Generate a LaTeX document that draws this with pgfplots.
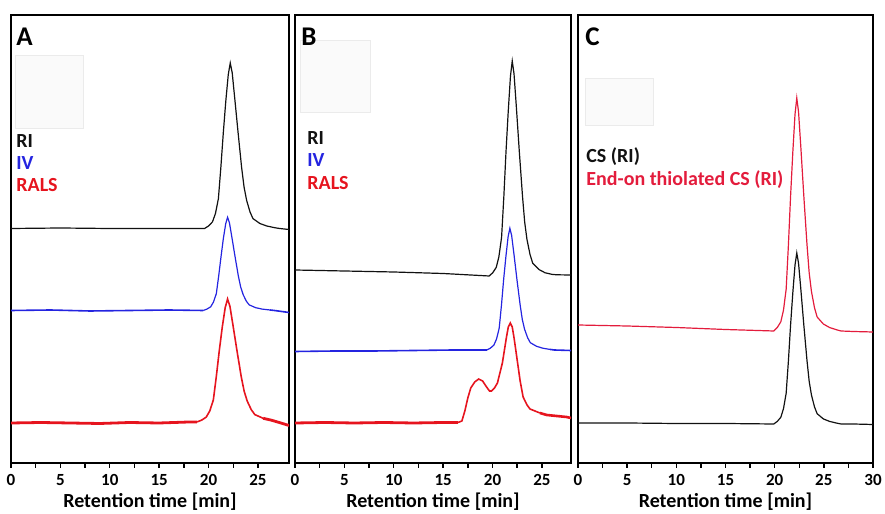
\documentclass[border=0pt]{standalone}
\usepackage{pgfplots}
\pgfplotsset{compat=1.18}
\usepackage{fontspec}
\setmainfont{Carlito}
\definecolor{riblack}{HTML}{111111}
\definecolor{ivblue}{HTML}{2424E0}
\definecolor{ralsred}{HTML}{E6141E}
\definecolor{thiored}{HTML}{E31C3C}
\pgfplotsset{
  panel/.style={
    scale only axis,
    height=224pt,
    ymin=0, ymax=448,
    ytick=\empty,
    xtick pos=left,
    tick align=outside,
    minor x tick num=1,
    major tick length=2.5pt,
    minor tick length=2.5pt,
    every tick/.style={black, line width=0.7pt},
    axis line style={line width=1.1pt},
    /pgf/number format/assume math mode=true,
    tick label style={font=\bfseries\fontsize{8.5}{9}\selectfont},
    xticklabel style={yshift=0.5pt},
    label style={font=\bfseries\fontsize{10}{11}\selectfont},
    xlabel={Retention time [min]},
    xlabel style={yshift=3pt},
    clip=true,
  },
}

\begin{document}
\begin{tikzpicture}
\useasboundingbox (0,0) rectangle (442.5pt,257pt);

% ---------- A ----------
\begin{axis}[panel, at={(5.5pt,25.5pt)}, anchor=south west, width=139pt,
  xmin=0, xmax=28.15, xtick={0,5,...,25}]
% RI
\addplot[riblack, line width=0.6pt] coordinates {
  (0,234.5) (5,235) (10,234.5) (15,234.5) (19.6,234.5) (20.0,237.0) (20.4,241.1)
  (20.7,249.4) (21.0,264.3) (21.25,295.7) (21.5,330.5) (21.75,361.9) (22.0,388.4)
  (22.2,400) (22.4,390.1) (22.65,365.2) (23.0,329.8) (23.35,295.7) (23.6,275.9)
  (23.86,262.6) (24.2,251.1) (24.5,244.4) (25.2,239.5) (25.9,237.0) (26.7,235.3)
  (27.2,234.5) (28.15,233.5)
};
% IV
\addplot[ivblue, line width=0.8pt] coordinates {
  (0,152.5) (4,153) (8,152) (12,152.5) (16,153) (19.46,152.5)
};
\addplot[ivblue, line width=0.6pt] coordinates {
  (19.46,152.5) (19.84,153.9) (20.22,156.2) (20.5,160.9) (20.79,169.3) (21.03,187.0)
  (21.27,206.6) (21.5,224.3) (21.74,239.2) (21.93,245.7) (22.12,240.1) (22.36,226.1)
  (22.69,206.2) (23.02,187.0) (23.26,175.8) (23.51,168.3) (23.83,161.8) (24.12,158.1)
  (24.78,155.3) (25.43,153.9) (26.23,153.0)
};
\addplot[ivblue, line width=0.8pt] coordinates {(26.23,153.0) (26.68,152.5) (28.15,150.5)};
% RALS
\addplot[ralsred, line width=1.4pt] coordinates {
  (0,40) (3,40.5) (6,40) (9,39.5) (12,40.5) (15,40) (18,41) (18.81,41)
};
\addplot[ralsred, line width=0.8pt] coordinates {
  (18.81,41) (19.29,42.8) (19.77,45.9) (20.13,52.1) (20.49,63.1) (20.79,86.5)
  (21.09,112.3) (21.39,135.7) (21.69,155.4) (21.93,164) (22.17,156.6) (22.47,138.2)
  (22.89,111.8) (23.31,86.5) (23.61,71.75) (23.92,61.9) (24.33,53.3) (24.69,48.4)
  (25.53,44.7)
};
\addplot[ralsred, line width=1.4pt] coordinates {
  (25.53,44.7) (26.37,42.8) (27.33,40) (28.15,37.5)
};
\end{axis}

% ---------- B ----------
\begin{axis}[panel, at={(147.5pt,25.5pt)}, anchor=south west, width=138pt,
  xmin=0, xmax=27.95, xtick={0,5,...,25}]
% RI
\addplot[riblack, line width=0.6pt] coordinates {
  (0,193) (5,192) (10,191) (15,189.5) (19.66,187) (20.02,190.2) (20.38,195.6)
  (20.65,206.4) (20.92,225.7) (21.15,266.6) (21.37,311.7) (21.6,352.6) (21.82,387)
  (22.0,402) (22.18,389.1) (22.41,356.9) (22.72,310.8) (23.04,266.6) (23.26,240.8)
  (23.49,223.6) (23.8,208.5) (24.07,199.9) (24.7,193.5) (25.33,190.2) (26.05,188.6)
  (26.5,188.2) (27.95,188)
};
% IV
\addplot[ivblue, line width=0.8pt] coordinates {
  (0,111.5) (4,112) (8,112) (12,112.5) (16,113) (19.42,113)
};
\addplot[ivblue, line width=0.6pt] coordinates {
  (19.42,113) (19.78,114.8) (20.14,117.9) (20.41,124.0) (20.68,134.9) (20.91,158.0)
  (21.13,183.6) (21.36,206.7) (21.58,226.2) (21.76,234.7) (21.94,227.4) (22.17,209.1)
  (22.48,183.1) (22.8,158.0) (23.02,143.4) (23.25,133.7) (23.56,125.2) (23.83,120.3)
  (24.46,116.7) (25.09,114.8) (25.81,113.6)
};
\addplot[ivblue, line width=0.8pt] coordinates {(25.81,113.6) (26.26,113) (27.95,112.5)};
% RALS
\addplot[ralsred, line width=1.4pt] coordinates {
  (0,40) (3,40.5) (6,40) (9,40.5) (12,40) (15,40.5) (16.5,40.5)
};
\addplot[ralsred, line width=0.8pt] coordinates {
  (16.5,40.5) (16.9,42) (17.2,52) (17.5,65) (17.8,75) (18.2,81) (18.6,84) (19.0,82)
  (19.4,76) (19.7,72) (19.9,72) (20.2,75) (20.5,80) (21.0,100) (21.4,125) (21.6,136)
  (21.8,140) (22.0,136) (22.2,124) (22.5,103) (22.8,82) (23.1,66) (23.5,58) (23.8,54)
  (24.3,52) (24.8,50)
};
\addplot[ralsred, line width=1.3pt] coordinates {
  (24.8,50) (25.5,48) (26.5,47) (27.5,46) (27.95,45)
};
\end{axis}

% ---------- C ----------
\begin{axis}[panel, at={(289pt,25.5pt)}, anchor=south west, width=147.5pt,
  xmin=0, xmax=30, xtick={0,5,...,30}]
% thiolated CS
\addplot[thiored, line width=0.6pt] coordinates {
  (0,138) (5,137) (10,135.5) (15,133.5) (19.91,132) (20.27,135.5) (20.63,141.3)
  (20.9,153.0) (21.17,173.9) (21.4,218.2) (21.62,267.1) (21.85,311.4) (22.07,348.7)
  (22.25,365) (22.43,351.0) (22.66,316.1) (22.97,266.2) (23.29,218.2) (23.51,190.25)
  (23.74,171.6) (24.05,155.3) (24.32,146.0) (24.95,139.0) (25.58,135.5) (26.3,133.2)
  (26.75,132) (28,131.5) (30,131)
};
% CS
\addplot[riblack, line width=0.6pt] coordinates {
  (0,40) (5,40) (10,39.5) (15,39.5) (19.91,39) (20.27,41.6) (20.63,45.8) (20.9,54.4)
  (21.17,69.8) (21.4,102.3) (21.62,138.2) (21.85,170.7) (22.07,198.0) (22.25,210)
  (22.43,199.7) (22.66,174.1) (22.97,137.5) (23.29,102.3) (23.51,81.75) (23.74,68.1)
  (24.05,56.1) (24.32,49.3) (24.95,44.1) (25.58,41.6) (26.3,39.9) (26.75,39)
  (28,39) (30,38.5)
};
\end{axis}

% faint empty boxes
\draw[black!8, fill=black!2] (7.5pt,229.5pt) rectangle (41.5pt,193pt);
\draw[black!8, fill=black!2] (150pt,237pt) rectangle (185pt,201pt);
\draw[black!8, fill=black!2] (292.5pt,218pt) rectangle (326.5pt,194.5pt);

% panel letters
\node[anchor=west, font=\bfseries\fontsize{13.5}{14}\selectfont, inner sep=0pt] at (8pt,238.5pt) {A};
\node[anchor=west, font=\bfseries\fontsize{13.5}{14}\selectfont, inner sep=0pt] at (150.5pt,238.5pt) {B};
\node[anchor=west, font=\bfseries\fontsize{13.5}{14}\selectfont, inner sep=0pt] at (292.5pt,238.5pt) {C};

% legends
\begin{scope}[every node/.style={anchor=west, inner sep=0pt, font=\bfseries\fontsize{10}{11}\selectfont}]
\node[riblack] at (8pt,186.5pt) {RI};
\node[ivblue] at (8pt,175.5pt) {IV};
\node[ralsred] at (8pt,164.5pt) {RALS};
\node[riblack] at (153.5pt,188pt) {RI};
\node[ivblue] at (153.5pt,177pt) {IV};
\node[ralsred] at (153.5pt,165.5pt) {RALS};
\node[riblack] at (293pt,178.5pt) {CS (RI)};
\node[thiored] at (293pt,167pt) {End-on thiolated CS (RI)};
\end{scope}
\end{tikzpicture}
\end{document}
